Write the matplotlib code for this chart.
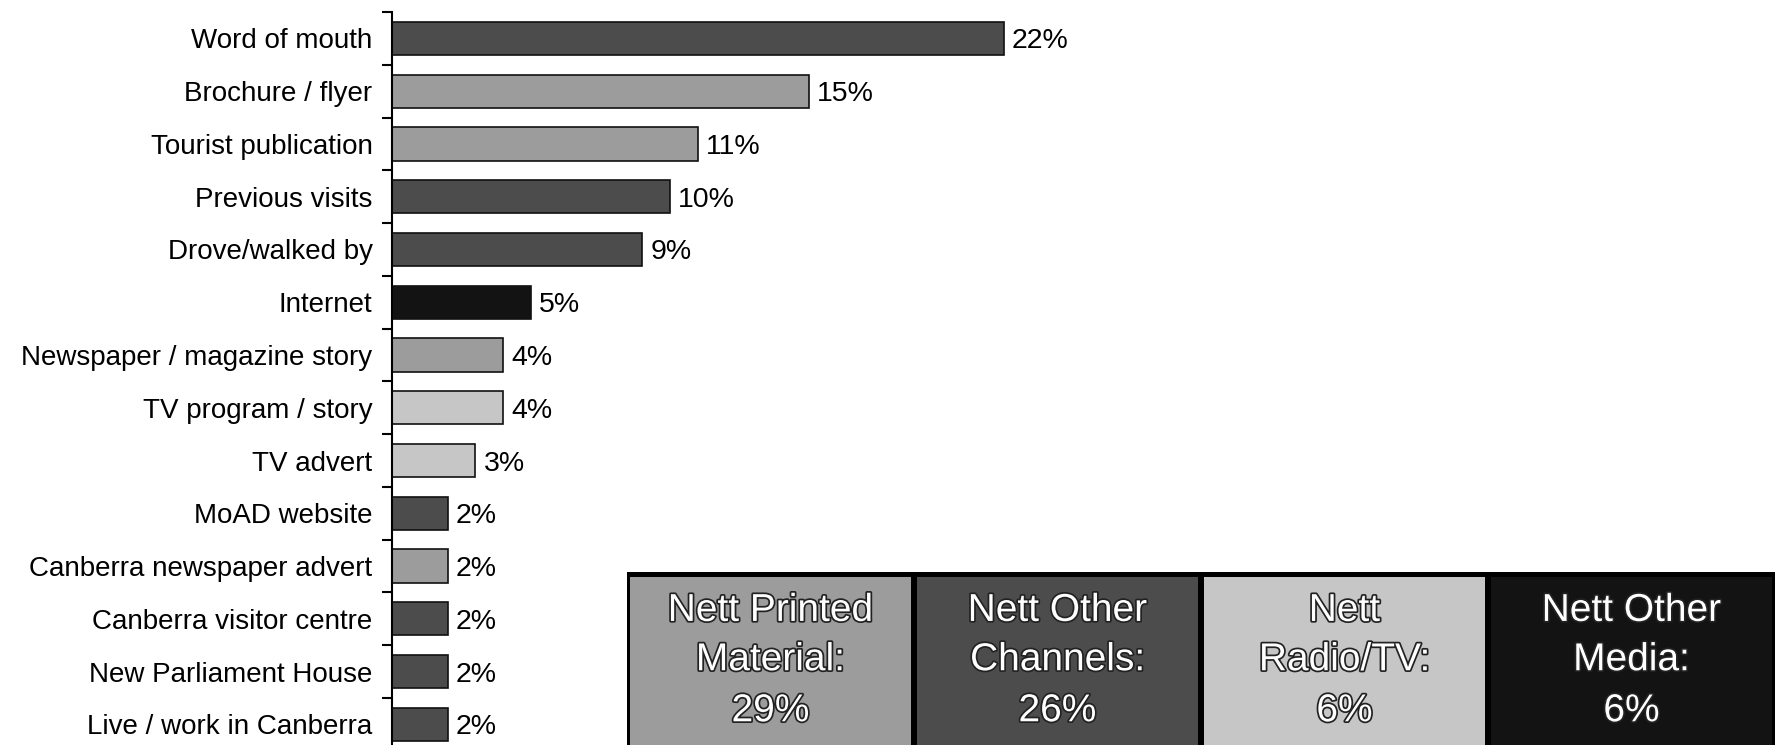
import matplotlib.pyplot as plt
import matplotlib.patheffects as pe
from matplotlib.patches import Rectangle

plt.rcParams['font.family'] = ['Liberation Sans', 'DejaVu Sans']

# Source of awareness, share of visitors (%)
sources = ["Word of mouth", "Brochure / flyer", "Tourist publication",
           "Previous visits", "Drove/walked by", "Internet",
           "Newspaper / magazine story", "TV program / story", "TV advert",
           "MoAD website", "Canberra newspaper advert",
           "Canberra visitor centre", "New Parliament House",
           "Live / work in Canberra"]
shares = [22, 15, 11, 10, 9, 5, 4, 4, 3, 2, 2, 2, 2, 2]
groups = ["other", "printed", "printed", "other", "other", "media",
          "printed", "radio", "radio", "other", "printed", "other",
          "other", "other"]

# Nett totals per channel group
nett_keys = ["printed", "other", "radio", "media"]
nett_titles = [["Nett Printed", "Material:"], ["Nett Other", "Channels:"],
               ["Nett", "Radio/TV:"], ["Nett Other", "Media:"]]
nett_values = [29, 26, 6, 6]

shade = {"printed": "#9c9c9c", "other": "#4c4c4c",
         "radio": "#c6c6c6", "media": "#131313"}

W, H = 1775, 745
fig = plt.figure(figsize=(W / 100, H / 100), dpi=100)

ax = fig.add_axes([392 / W, 0, (W - 392) / W, (H - 12) / H])
y = list(range(len(sources)))
ax.barh(y, shares, height=0.63, color=[shade[g] for g in groups],
        edgecolor="#111111", linewidth=1.2)
for yi, v in zip(y, shares):
    ax.text(v + 0.3, yi, f"{v}%", ha="left", va="center_baseline",
            fontsize=20.5)

ax.set_xlim(0, (W - 392) / 27.8)
ax.set_ylim(13.39, -0.5)
ax.set_yticks(y)
ax.set_yticklabels(sources, fontsize=20)
ax.set_yticks([i - 0.5 for i in range(len(sources))], minor=True)
ax.tick_params(axis="y", which="major", length=0, pad=14)
ax.tick_params(axis="y", which="minor", length=7, width=1.5, color="black")
ax.set_xticks([])
for s in ["top", "right", "bottom"]:
    ax.spines[s].set_visible(False)
ax.spines["left"].set_linewidth(1.5)

# Nett summary panel
bx = fig.add_axes([627 / W, 0, (W - 627) / W, 173 / H])
bx.set_facecolor("black")
bx.set_xlim(0, 4)
bx.set_ylim(0, 1)
bx.set_xticks([])
bx.set_yticks([])
for s in bx.spines.values():
    s.set_visible(False)

outline = [pe.withStroke(linewidth=2.5, foreground="#222222")]
line_y = [0.775, 0.49, 0.195]
for i, key in enumerate(nett_keys):
    bx.add_patch(Rectangle((i + 0.012, -0.1), 0.976, 1.071,
                           facecolor=shade[key], edgecolor="none"))
    lines = nett_titles[i] + [f"{nett_values[i]}%"]
    for ly, txt in zip(line_y, lines):
        bx.text(i + 0.5, ly, txt, ha="center", va="center", fontsize=28,
                color="white", path_effects=outline)

fig.savefig("out.png", dpi=100)
